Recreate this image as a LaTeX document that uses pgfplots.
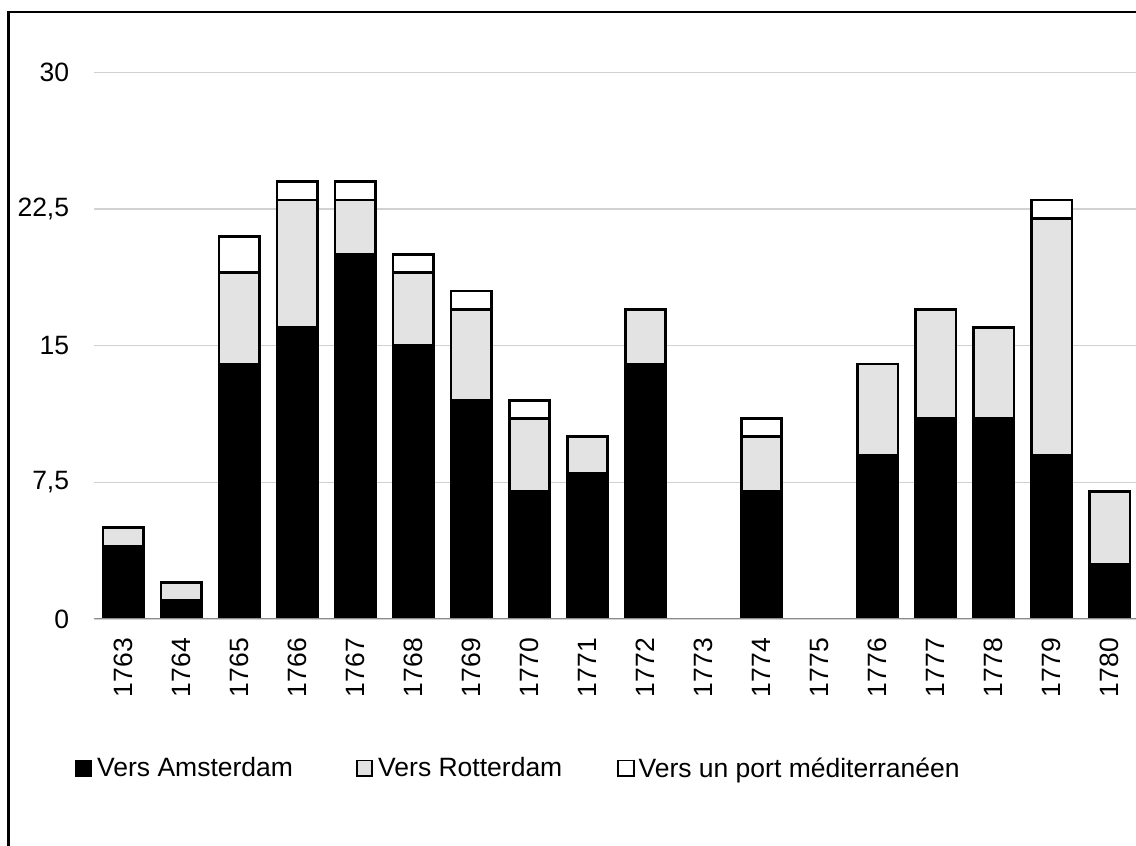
\documentclass[border=0pt]{standalone}
\usepackage{fontspec}
\setmainfont{Liberation Sans}
\usepackage{pgfplots}
\usepackage{pgfplotstable}
\pgfplotsset{compat=1.18}
\definecolor{rgray}{gray}{0.89}
\definecolor{gridgray}{gray}{0.82}
\definecolor{axgray}{gray}{0.55}

\pgfplotstableread{
x A R M
0 4 1 0
1 1 1 0
2 14 5 2
3 16 7 1
4 20 3 1
5 15 4 1
6 12 5 1
7 7 4 1
8 8 2 0
9 14 3 0
11 7 3 1
13 9 5 0
14 11 6 0
15 11 5 0
16 9 13 1
17 3 4 0
}\data

\begin{document}
\begin{tikzpicture}
\begin{axis}[
  scale only axis,
  x=58.02pt, y=18.22pt,
  at={(94.3pt,227pt)}, anchor=south west,
  xmin=-0.5, xmax=17.5,
  ymin=0, ymax=30,
  ybar stacked, bar width=40.7pt,
  axis line style={draw=none},
  major tick length=0pt,
  ytick={0,7.5,15,22.5,30},
  yticklabels={0,{7,5},15,{22,5},30},
  xtick={0,...,17},
  xticklabels={1763,1764,1765,1766,1767,1768,1769,1770,1771,1772,1773,1774,1775,1776,1777,1778,1779,1780},
  ymajorgrids,
  major grid style={gridgray, line width=1.2pt},
  tick label style={font=\fontsize{26.5}{30}\selectfont, inner sep=0pt},
  /pgf/number format/assume math mode=true,
  xticklabel style={rotate=90, anchor=east},
  xticklabel shift=19pt,
  yticklabel style={anchor=east},
  yticklabel shift=25pt,
  legend columns=3,
  legend style={at={(-0.0185,-0.2726)}, anchor=west, draw=none, fill=none,
    inner sep=0pt, outer sep=0pt,
    font=\fontsize{26.5}{30}\selectfont,
    nodes={inner sep=0pt},
    /tikz/column 1/.style={column sep=5pt},
    /tikz/column 2/.style={column sep=63pt},
    /tikz/column 3/.style={column sep=5pt},
    /tikz/column 4/.style={column sep=55pt},
    /tikz/column 5/.style={column sep=4pt},
  },
  legend image code/.code={\draw[#1, line width=1.8pt] (0pt,-7.6pt) rectangle (15.4pt,7.6pt);},
  every axis plot/.append style={draw=black, line width=2.8pt},
]
\draw[axgray, line width=1.2pt] (axis cs:-0.5,0) -- (axis cs:17.5,0);
\addplot[fill=black] table[x=x, y=A] {\data};
\addplot[fill=rgray] table[x=x, y=R] {\data};
\addplot[fill=white] table[x=x, y=M] {\data};
\legend{Vers Amsterdam, Vers Rotterdam, Vers un port méditerranéen}
\end{axis}
\draw[black, line width=2.7pt] (8.7pt,-20pt) -- (8.7pt,834pt) -- (1200pt,834pt);
\pgfresetboundingbox
\path[use as bounding box] (0,0) rectangle (1136pt,846pt);
\end{tikzpicture}
\end{document}
